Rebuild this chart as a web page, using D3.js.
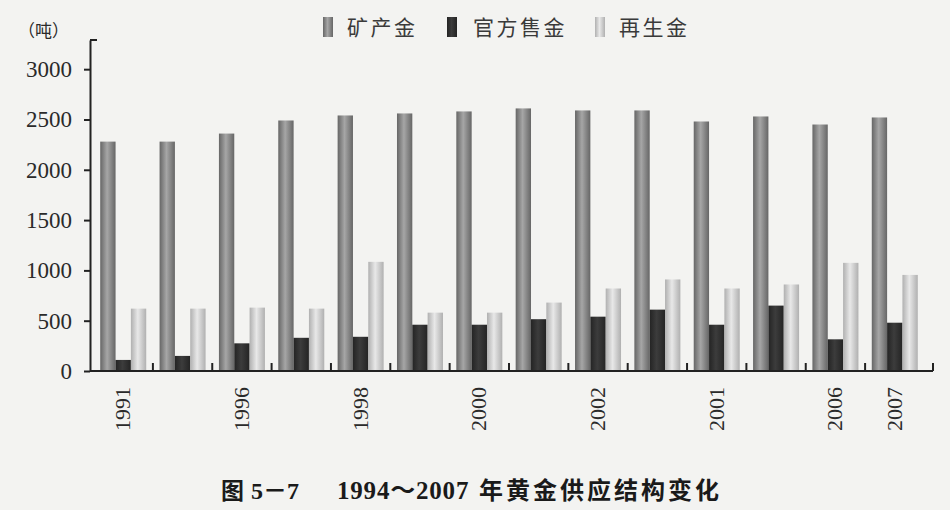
<!DOCTYPE html>
<html>
<head>
<meta charset="utf-8">
<script src="https://cdn.jsdelivr.net/npm/d3@7"></script>
<style>
  html, body { margin: 0; padding: 0; background: #f3f3f1; }
  svg { display: block; }
</style>
</head>
<body>
<svg id="chart" width="950" height="510"></svg>
<script>
// 年份（图上可见的刻度标签按原图照录）
const years = ["1994","1995","1996","1997","1998","1999","2000","2001","2002","2003","2004","2005","2006","2007"];
const tickLabels = ["1991", "", "1996", "", "1998", "", "2000", "", "2002", "", "2001", "", "2006", "2007"];
const seriesNames = ["矿产金", "官方售金", "再生金"];

// 各序列数值（吨）
const mineGold     = [2280, 2280, 2360, 2490, 2540, 2560, 2580, 2610, 2590, 2590, 2480, 2530, 2450, 2520];
const officialGold = [110, 150, 275, 330, 340, 460, 460, 515, 540, 610, 460, 650, 315, 480];
const scrapGold    = [620, 620, 630, 620, 1085, 580, 580, 680, 820, 910, 820, 860, 1075, 955];
const yTicks = [0, 500, 1000, 1500, 2000, 2500, 3000];

const svg = d3.select("#chart");
const W = 950, H = 510;
const axisLeftX = 90, axisRightX = 933, axisTopY = 40, baseY = 371;

const x = d3.scaleBand()
  .domain(years)
  .range([93.7, 924.3])
  .paddingInner(0.225)
  .paddingOuter(0.11);

const xs = d3.scaleBand()
  .domain(seriesNames)
  .range([0, x.bandwidth()]);

const y = d3.scaleLinear()
  .domain([0, 3290])
  .range([baseY, axisTopY]);

// 柱子渐变（模拟印刷的柱体质感）
const defs = svg.append("defs");
const fills = [
  { id: "g-mine", edge: "#666", mid: "#a6a6a6" },
  { id: "g-off", edge: "#242424", mid: "#3c3c3c" },
  { id: "g-scrap", edge: "#b0b0b0", mid: "#e8e8e8" }
];
fills.forEach(f => {
  const g = defs.append("linearGradient").attr("id", f.id)
    .attr("x1", "0%").attr("x2", "100%").attr("y1", "0%").attr("y2", "0%");
  g.append("stop").attr("offset", "0%").attr("stop-color", f.edge);
  g.append("stop").attr("offset", "45%").attr("stop-color", f.mid);
  g.append("stop").attr("offset", "100%").attr("stop-color", f.edge);
});

const rows = years.map((yr, i) => ({
  year: yr,
  values: [mineGold[i], officialGold[i], scrapGold[i]]
}));

// 柱子
const groups = svg.append("g").selectAll("g")
  .data(rows)
  .join("g")
  .attr("transform", d => `translate(${x(d.year)},0)`);

groups.selectAll("rect")
  .data(d => d.values.map((v, k) => ({ key: seriesNames[k], v, k })))
  .join("rect")
  .attr("x", d => xs(d.key))
  .attr("width", xs.bandwidth())
  .attr("y", d => y(d.v))
  .attr("height", d => y(0) - y(d.v))
  .attr("fill", d => `url(#${fills[d.k].id})`);

// y 轴
const yAxis = svg.append("g")
  .attr("transform", `translate(${axisLeftX},0)`)
  .call(d3.axisLeft(y).tickValues(yTicks).tickFormat(d3.format("d"))
    .tickSize(6).tickSizeOuter(0).tickPadding(12));
yAxis.select(".domain").attr("stroke", "#222").attr("stroke-width", 2);
yAxis.selectAll(".tick line").attr("stroke", "#222").attr("stroke-width", 2);
yAxis.selectAll(".tick text")
  .attr("font-family", "'Liberation Serif', 'DejaVu Serif', serif")
  .attr("font-size", 23)
  .attr("fill", "#2a2a2a");
// 顶端小横线
svg.append("line")
  .attr("x1", axisLeftX).attr("x2", axisLeftX + 7)
  .attr("y1", axisTopY).attr("y2", axisTopY)
  .attr("stroke", "#222").attr("stroke-width", 2);

// x 轴
svg.append("line")
  .attr("x1", axisLeftX).attr("x2", axisRightX)
  .attr("y1", baseY).attr("y2", baseY)
  .attr("stroke", "#222").attr("stroke-width", 2);

const step = x.step();
const gap = x.paddingInner() * step;
const tickXs = years.map((d, i) => i < years.length - 1 ? x(d) + x.bandwidth() + gap / 2 : axisRightX);
svg.append("g").selectAll("line")
  .data(tickXs)
  .join("line")
  .attr("x1", d => d).attr("x2", d => d)
  .attr("y1", baseY).attr("y2", baseY - 8)
  .attr("stroke", "#222").attr("stroke-width", 2);

svg.append("g").selectAll("text")
  .data(years.map((d, i) => ({ year: d, label: tickLabels[i] })).filter(d => d.label))
  .join("text")
  .attr("transform", d => `translate(${x(d.year) + x.bandwidth() / 2 + 7},${baseY + 16}) rotate(-90)`)
  .attr("text-anchor", "end")
  .attr("font-family", "'Liberation Serif', 'DejaVu Serif', serif")
  .attr("font-size", 22)
  .attr("fill", "#2a2a2a")
  .text(d => d.label);

// 单位
svg.append("text")
  .attr("x", 18).attr("y", 37)
  .attr("font-family", "'Noto Sans CJK SC', sans-serif")
  .attr("font-size", 17)
  .attr("fill", "#2a2a2a")
  .text("（吨）");

// 图例
const legendX = [323, 447, 595];
const legend = svg.append("g").selectAll("g")
  .data(seriesNames)
  .join("g")
  .attr("transform", (d, i) => `translate(${legendX[i]},17)`);
legend.append("rect")
  .attr("width", 10).attr("height", 20)
  .attr("fill", (d, i) => `url(#${fills[i].id})`);
legend.append("text")
  .attr("x", (d, i) => i === 1 ? 26 : 24).attr("y", 18)
  .attr("font-family", "'Noto Sans CJK SC', sans-serif")
  .attr("font-size", 21)
  .attr("letter-spacing", 2.5)
  .attr("fill", "#3a3a3a")
  .text(d => d);

// 图题
const title = svg.append("text")
  .attr("y", 499)
  .attr("font-weight", "bold")
  .attr("fill", "#1a1a1a");
title.append("tspan").attr("x", 221)
  .attr("font-family", "'Noto Sans CJK SC', sans-serif").attr("font-size", 23)
  .text("图");
title.append("tspan").attr("x", 251)
  .attr("font-family", "'Liberation Serif', 'Noto Sans CJK SC', serif").attr("font-size", 24)
  .text("5－7");
title.append("tspan").attr("x", 337)
  .attr("font-family", "'Liberation Serif', 'Noto Sans CJK SC', serif").attr("font-size", 25)
  .attr("letter-spacing", 0.8)
  .text("1994～2007");
title.append("tspan").attr("x", 479)
  .attr("font-family", "'Noto Sans CJK SC', sans-serif").attr("font-size", 24)
  .attr("letter-spacing", 3)
  .text("年黄金供应结构变化");
</script>
</body>
</html>
